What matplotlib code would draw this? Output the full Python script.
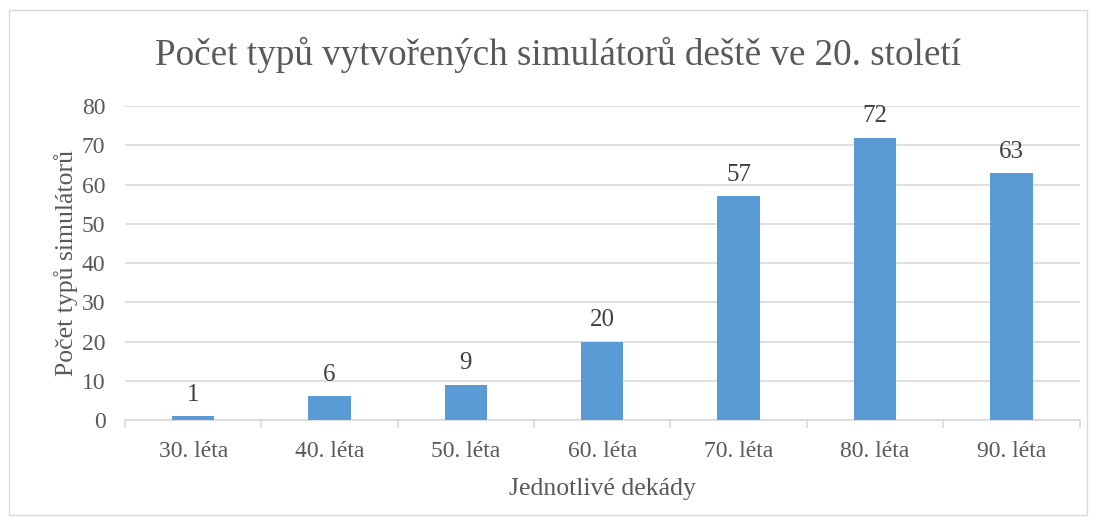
import matplotlib
matplotlib.use("Agg")
import matplotlib.pyplot as plt
from matplotlib.patches import Rectangle

categories = ["30. léta", "40. léta", "50. léta", "60. léta", "70. léta", "80. léta", "90. léta"]
values = [1, 6, 9, 20, 57, 72, 63]

plt.rcParams['font.family'] = ['Liberation Serif', 'DejaVu Serif']

fig = plt.figure(figsize=(10.96, 5.23), dpi=100)
ax = fig.add_axes([0.114, 0.197, 0.871, 0.600])

x = list(range(len(categories)))
bars = ax.bar(x, values, width=0.31, color="#5B9BD5", zorder=3)
for xi, v in zip(x, values):
    ax.text(xi, v + 2.6, str(v), ha="center", va="bottom", fontsize=18, color="#404040")

ax.set_xlim(-0.5, len(categories) - 0.5)
ax.set_ylim(0, 80)
ax.set_yticks(range(0, 81, 10))
ax.yaxis.grid(True, color="#D9D9D9", linewidth=1.2, zorder=0)
ax.set_xticks(x)
ax.set_xticklabels(categories)
ax.set_xticks([i - 0.5 for i in range(len(categories) + 1)], minor=True)
ax.tick_params(axis="x", which="major", length=0, pad=15, labelsize=17, labelcolor="#595959")
ax.tick_params(axis="x", which="minor", length=6, color="#D9D9D9", width=1.2)
ax.tick_params(axis="y", length=0, pad=14, labelsize=17, labelcolor="#595959")
for s in ["top", "right", "left"]:
    ax.spines[s].set_visible(False)
ax.spines["bottom"].set_color("#D9D9D9")
ax.spines["bottom"].set_linewidth(1.2)

ax.set_xlabel("Jednotlivé dekády", fontsize=18.5, color="#595959", labelpad=12)
ax.set_ylabel("Počet typů simulátorů", fontsize=18.5, color="#595959", labelpad=3)
fig.text(0.5087, 0.895, "Počet typů vytvořených simulátorů deště ve 20. století",
         ha="center", va="center", fontsize=26.7, color="#595959")

fig.patches.append(Rectangle((0.008, 0.015), 0.984, 0.965, transform=fig.transFigure,
                             fill=False, edgecolor="#D9D9D9", linewidth=1))

fig.savefig("out.png", dpi=100)
